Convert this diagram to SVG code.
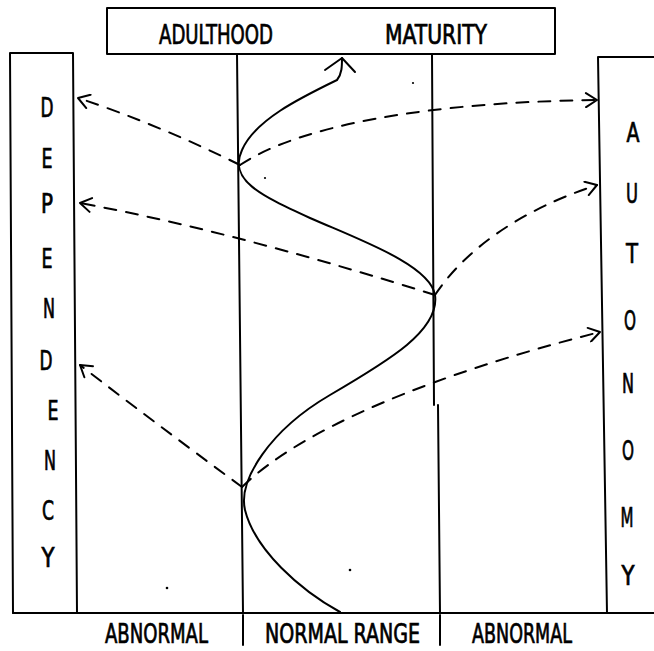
<svg xmlns="http://www.w3.org/2000/svg" width="654" height="651" viewBox="0 0 654 651">
<style>
.ln{fill:none;stroke:#000;stroke-width:2;stroke-linecap:round;stroke-linejoin:round}
.dash{fill:none;stroke:#000;stroke-width:2;stroke-dasharray:12 10;stroke-linecap:round}
.t{font-family:"DejaVu Sans Condensed","DejaVu Sans",sans-serif;font-size:26px;fill:#000;stroke:#000;stroke-width:0.7}
.v{text-anchor:middle}
</style>
<defs>
<marker id="ah" markerWidth="16" markerHeight="16" refX="14" refY="8" orient="auto" markerUnits="userSpaceOnUse">
<path d="M3,1 L14,8 L3,15" fill="none" stroke="#000" stroke-width="2" stroke-linecap="round" stroke-linejoin="round"/>
</marker>
</defs>
<rect width="654" height="651" fill="#fff"/>
<g id="top-box">
<rect x="107" y="8" width="448" height="46" class="ln"/>
<text class="t" x="159" y="44" textLength="114" lengthAdjust="spacingAndGlyphs">ADULTHOOD</text>
<text class="t" x="385" y="44" textLength="102" lengthAdjust="spacingAndGlyphs">MATURITY</text>
</g>
<g id="dependency">
<path d="M10,53 L73,53 L77,613 M10,53 L13,613" class="ln"/>
<text class="t v" x="47" y="117" textLength="13" lengthAdjust="spacingAndGlyphs">D</text>
<text class="t v" x="47" y="168" textLength="11" lengthAdjust="spacingAndGlyphs">E</text>
<text class="t v" x="47" y="213" textLength="12" lengthAdjust="spacingAndGlyphs">P</text>
<text class="t v" x="47" y="268" textLength="11" lengthAdjust="spacingAndGlyphs">E</text>
<text class="t v" x="49" y="318" textLength="12" lengthAdjust="spacingAndGlyphs">N</text>
<text class="t v" x="46" y="370" textLength="13" lengthAdjust="spacingAndGlyphs">D</text>
<text class="t v" x="53" y="420" textLength="11" lengthAdjust="spacingAndGlyphs">E</text>
<text class="t v" x="50" y="470" textLength="12" lengthAdjust="spacingAndGlyphs">N</text>
<text class="t v" x="48" y="520" textLength="12" lengthAdjust="spacingAndGlyphs">C</text>
<text class="t v" x="48" y="567" textLength="13" lengthAdjust="spacingAndGlyphs">Y</text>
</g>
<g id="autonomy">
<path d="M654,57 L598,57 L607,613" class="ln"/>
<text class="t v" x="633" y="142" textLength="13" lengthAdjust="spacingAndGlyphs">A</text>
<text class="t v" x="632" y="203" textLength="12" lengthAdjust="spacingAndGlyphs">U</text>
<text class="t v" x="632" y="263" textLength="12" lengthAdjust="spacingAndGlyphs">T</text>
<text class="t v" x="630" y="330" textLength="12" lengthAdjust="spacingAndGlyphs">O</text>
<text class="t v" x="628" y="393" textLength="12" lengthAdjust="spacingAndGlyphs">N</text>
<text class="t v" x="628" y="460" textLength="12" lengthAdjust="spacingAndGlyphs">O</text>
<text class="t v" x="627" y="527" textLength="13" lengthAdjust="spacingAndGlyphs">M</text>
<text class="t v" x="628" y="585" textLength="13" lengthAdjust="spacingAndGlyphs">Y</text>
</g>
<g id="range-lines">
<path d="M237,54 L243,613" class="ln"/>
<path d="M432,54 L434,405 M438,405 L440,613" class="ln" stroke-width="2.5"/>
<path d="M13,613 L654,613" class="ln"/>
<path d="M243,615 L243,645 M440,615 L440,645" class="ln"/>
</g>
<g id="bottom-labels">
<text class="t" x="105" y="643" textLength="103" lengthAdjust="spacingAndGlyphs">ABNORMAL</text>
<text class="t" x="265" y="643" textLength="155" lengthAdjust="spacingAndGlyphs">NORMAL RANGE</text>
<text class="t" x="472" y="643" textLength="100" lengthAdjust="spacingAndGlyphs">ABNORMAL</text>
</g>
<g id="connectors">
<path d="M340,612 C300,590 255,550 245,510 C238,480 270,430 330,395 C390,360 440,330 435,295 C430,265 360,240 310,218 C260,195 228,180 242,150 C255,120 300,98 337,80 C342,74 342,66 342,58" class="ln"/>
<path d="M325,70 L342,58 L355,72" class="ln"/>
<path d="M240,165 C190,140 130,115 78,98" class="dash" marker-end="url(#ah)"/>
<path d="M240,165 C300,125 430,102 597,100" class="dash" marker-end="url(#ah)"/>
<path d="M435,295 C330,262 200,225 80,203" class="dash" marker-end="url(#ah)"/>
<path d="M435,295 C465,250 520,210 597,185" class="dash" marker-end="url(#ah)"/>
<path d="M242,487 C185,445 125,400 80,365" class="dash" marker-end="url(#ah)"/>
<path d="M242,487 C300,430 430,375 600,332" class="dash" marker-end="url(#ah)"/>
</g>
<g id="specks" fill="#000">
<circle cx="167" cy="588" r="1.3"/>
<circle cx="350" cy="570" r="1.3"/>
<circle cx="413" cy="83" r="1.1"/>
<circle cx="265" cy="178" r="1.1"/>
</g>
</svg>
